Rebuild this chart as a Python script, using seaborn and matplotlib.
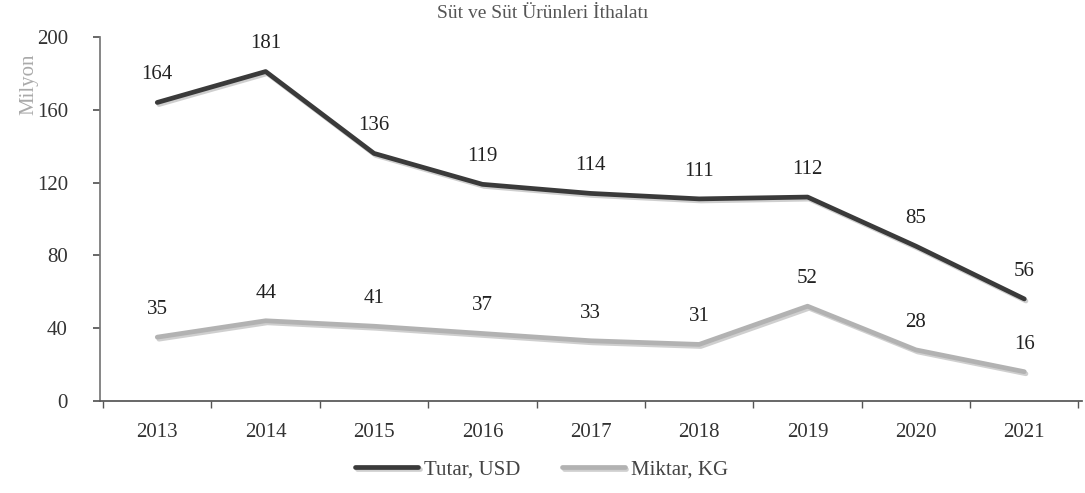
import matplotlib
matplotlib.use("Agg")
import matplotlib.pyplot as plt
import matplotlib.patheffects as pe
import seaborn as sns
import pandas as pd
from matplotlib.ticker import FixedLocator

years = ["2013", "2014", "2015", "2016", "2017", "2018", "2019", "2020", "2021"]
tutar_usd = [164, 181, 136, 119, 114, 111, 112, 85, 56]
miktar_kg = [35, 44, 41, 37, 33, 31, 52, 28, 16]
series_names = ["Tutar, USD", "Miktar, KG"]
y_ticks = [0, 40, 80, 120, 160, 200]

sns.set_theme(style="white")
plt.rcParams["font.family"] = ["Liberation Serif", "DejaVu Serif"]

df = pd.DataFrame({
    "x": list(range(len(years))) * 2,
    "value": tutar_usd + miktar_kg,
    "series": [series_names[0]] * len(years) + [series_names[1]] * len(years),
})

fig = plt.figure(figsize=(10.85, 4.93), dpi=100)
ax = fig.add_axes([0.092, 0.187, 0.905, 0.738])

palette = {series_names[0]: "#3a3a3a", series_names[1]: "#b2b2b2"}
sns.lineplot(data=df, x="x", y="value", hue="series", palette=palette,
             linewidth=3.4, ax=ax, legend=True)
for line in ax.get_lines():
    line.set_path_effects([pe.SimpleLineShadow(offset=(1.2, -1.5), shadow_color="#bbbbbb", alpha=0.7),
                           pe.Normal()])

for s, vals in zip(series_names, [tutar_usd, miktar_kg]):
    for i, v in enumerate(vals):
        ax.annotate(str(v), (i, v), xytext=(0, 13), textcoords="offset points",
                    ha="center", va="bottom", fontsize=15, color="#222222")

ax.set_xlim(-0.53, len(years) - 1 + 0.53)
ax.set_ylim(0, 200)
ax.set_yticks(y_ticks)
ax.set_yticklabels([str(t) for t in y_ticks], fontsize=15, color="#333333")
ax.set_xticks(range(len(years)))
ax.set_xticklabels(years, fontsize=15, color="#333333")
ax.xaxis.set_minor_locator(FixedLocator([i + 0.5 for i in range(-1, len(years))]))
ax.tick_params(axis="x", which="major", length=0, pad=16)
ax.tick_params(axis="x", which="minor", length=5, color="#555555", bottom=True)
ax.tick_params(axis="y", which="major", length=5, color="#555555", left=True, pad=18)

for side in ["top", "right"]:
    ax.spines[side].set_visible(False)
ax.spines["left"].set_color("#777777")
ax.spines["bottom"].set_color("#555555")

ax.set_xlabel("")
ax.set_ylabel("Milyon", fontsize=15, color="#aaaaaa")
ax.yaxis.set_label_coords(-0.063, 0.87)

fig.suptitle("Süt ve Süt Ürünleri İthalatı", fontsize=14, color="#555555", x=0.5, y=0.99)

leg = ax.legend(loc="upper center", bbox_to_anchor=(0.45, -0.11), ncol=2,
                frameon=False, fontsize=15, handlelength=3.0, handletextpad=0.3,
                columnspacing=2.0)
for t in leg.get_texts():
    t.set_color("#444444")

fig.savefig("out.png", dpi=100)
